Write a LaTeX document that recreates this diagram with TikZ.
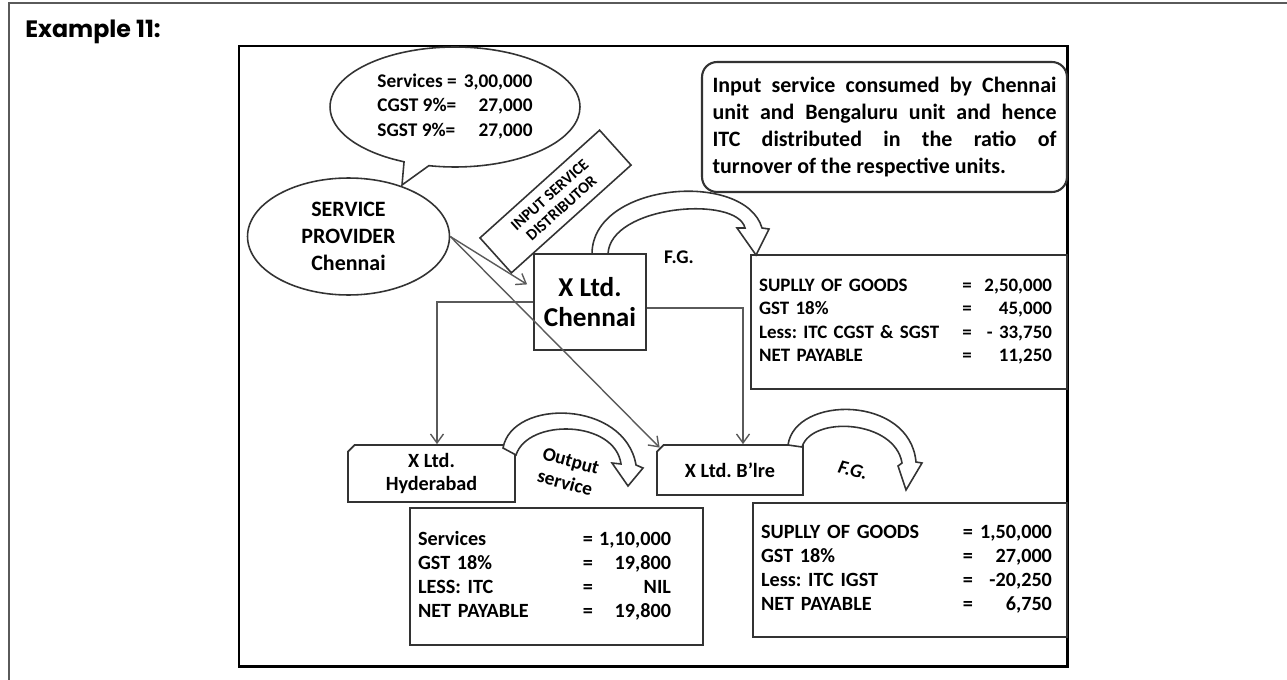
\documentclass[tikz,border=0pt]{standalone}
\usepackage{fontspec}
\setmainfont{Carlito}
\newfontfamily\titlefont{Poppins}
\usepackage{array}
\usepackage{xcolor}
\definecolor{boxGray}{HTML}{333333}
\definecolor{lineGray}{HTML}{5A5A5A}
\newcolumntype{C}[1]{>{\centering\arraybackslash}p{#1}}
\newcolumntype{R}[1]{>{\raggedleft\arraybackslash}p{#1}}
\usetikzlibrary{shapes.geometric, shapes.misc, shapes.callouts, arrows.meta, positioning, calc}
\frenchspacing

\begin{document}
\begin{tikzpicture}[
    x=0.02cm, y=-0.02cm,
    frame/.style={draw=black, line width=1.7pt},
    block/.style={rectangle, draw=boxGray, line width=1pt, fill=white, align=center, inner sep=0pt, font=\bfseries\fontsize{15.5}{17.5}\selectfont},
    unitbox/.style={chamfered rectangle, chamfered rectangle corners=north west, chamfered rectangle xsep=0.07cm, chamfered rectangle ysep=0.06cm, draw=boxGray, line width=1pt, fill=white, align=center, inner sep=0pt, font=\bfseries\fontsize{11.5}{13}\selectfont},
    tbl/.style={rectangle, draw=boxGray, line width=1pt, fill=white, align=left, inner xsep=0.16cm, inner ysep=0pt, font=\bfseries\fontsize{11.5}{13.6}\selectfont},
    bubble/.style={ellipse, draw=boxGray, line width=0.9pt, fill=white, align=center, inner sep=0pt},
    talk/.style={ellipse callout, draw=boxGray, line width=0.9pt, fill=white, inner sep=0pt, callout pointer arc=12, font=\bfseries\fontsize{11}{14.2}\selectfont},
    note/.style={rectangle, rounded corners=0.3cm, draw=boxGray, line width=1.2pt, fill=white, align=justify, inner xsep=0.21cm, font=\bfseries\fontsize{12.5}{15.3}\selectfont},
    banner/.style={rectangle, draw=boxGray, line width=0.9pt, fill=white, align=center, inner sep=0pt, minimum width=3.22cm, minimum height=0.94cm, font=\bfseries\fontsize{9}{10}\selectfont},
    curvearrow/.style={draw=boxGray, line width=0.9pt, fill=white},
    arrow/.style={draw=lineGray, line width=0.8pt, -{Straight Barb[length=1.8mm, width=2.6mm]}},
    lbl/.style={font=\bfseries\fontsize{11}{13}\selectfont, align=center}
]
    \useasboundingbox (0,0) rectangle (1287,679);

    % Frames
    \draw[draw=lineGray, line width=0.8pt] (9,3) rectangle (1300,700);
    \draw[frame] (239,46) rectangle (1067,666);
    \node[anchor=base west, inner sep=0pt, font=\titlefont\bfseries\fontsize{13.5}{15}\selectfont] (title) at (25,38) {Example 11:};

    % Nodes
    \node[talk, minimum width=5cm, minimum height=2.4cm, callout absolute pointer={(402,185)}] (cost) at (455,107)
        {\begin{tabular}{@{}l@{\hspace{4pt}}r@{}}Services = & 3,00,000\\ CGST 9\%= & 27,000\\ SGST 9\%= & 27,000\end{tabular}};
    \node[bubble, minimum width=4.04cm, minimum height=2.34cm, font=\bfseries\fontsize{12.5}{15.3}\selectfont] (provider) at (348.5,236.5) {SERVICE\\PROVIDER\\Chennai};
    \node[banner, rotate=42] (isd) at (555.5,201.5) {INPUT SERVICE\\DISTRIBUTOR};
    \node[block, minimum width=2.24cm, minimum height=1.92cm] (chennai) at (590,302) {X Ltd.\\Chennai};
    \node[note, text width=6.88cm, minimum height=2.6cm] (remark) at (884.5,127)
        {Input service consumed by Chennai\linebreak unit and Bengaluru unit and hence\linebreak ITC distributed in the ratio of\linebreak turnover of the respective units.};
    \node[tbl, text width=6.0cm, minimum height=2.68cm, font=\bfseries\fontsize{10.8}{13.3}\selectfont] (chennaiTax) at (909,322)
        {\begin{tabular}{@{}p{4.02cm}@{}C{0.28cm}@{}R{1.56cm}@{}}
         SUPLLY OF GOODS & = & 2,50,000\\
         GST 18\% & = & 45,000\\
         Less: ITC CGST \& SGST & = & - 33,750\\
         NET PAYABLE & = & 11,250
         \end{tabular}};
    \node[unitbox, minimum width=3.34cm, minimum height=1.14cm] (hyd) at (431.5,473.5) {X Ltd.\\Hyderabad};
    \node[unitbox, minimum width=2.92cm, minimum height=1.0cm] (blre) at (730,470) {X Ltd. B'lre};
    \node[tbl, text width=5.54cm, minimum height=2.74cm] (hydTax) at (556.5,576.5)
        {\begin{tabular}{@{}p{3.24cm}@{}C{0.32cm}@{}R{1.5cm}@{}}
         Services & = & 1,10,000\\
         GST 18\% & = & 19,800\\
         LESS: ITC & = & NIL\hspace{0.38cm}\\
         NET PAYABLE & = & 19,800
         \end{tabular}};
    \node[tbl, text width=5.96cm, minimum height=2.68cm] (blreTax) at (910,570)
        {\begin{tabular}{@{}p{4.0cm}@{}C{0.28cm}@{}R{1.54cm}@{}}
         SUPLLY OF GOODS & = & 1,50,000\\
         GST 18\% & = & 27,000\\
         Less: ITC IGST & = & -20,250\\
         NET PAYABLE & = & 6,750
         \end{tabular}};

    % Bent arrows
    \draw[curvearrow] (592,254) .. controls (592,182) and (745,170) .. (762,228) -- (769,229) -- (756,255) -- (737,228) -- (745,228) .. controls (737,195) and (610,205) .. (608,254) -- cycle;
    \draw[curvearrow] (503,448) .. controls (512,398) and (625,400) .. (636,465) -- (643,468) -- (628,486) -- (612,463) -- (621,464) .. controls (615,420) and (528,418) .. (516,455) -- cycle;
    \draw[curvearrow] (788,445) .. controls (795,395) and (910,395) .. (916,462) -- (922,463) -- (906,490) -- (898,466) -- (902,463) .. controls (895,420) and (812,415) .. (802,447) -- cycle;
    \node[lbl] (fgTop) at (679,257) {F.G.};
    \node[lbl, rotate=-15] (outLbl) at (568,472) {Output\\service};
    \node[lbl, rotate=-15, font=\bfseries\itshape\fontsize{11}{13}\selectfont] (fgLow) at (853,470) {F.G.};

    % Connections
    \draw[arrow] (provider.east) -- ($(chennai.north west)!0.32!(chennai.south west) + (-6,0)$);
    \draw[arrow] (provider.east) -- (blre.north west);
    \draw[arrow] (chennai.west) -| ([xshift=0.11cm]hyd.north);
    \draw[arrow] ([yshift=-0.12cm]chennai.east) -| ([xshift=0.26cm]blre.north);
\end{tikzpicture}
\end{document}
